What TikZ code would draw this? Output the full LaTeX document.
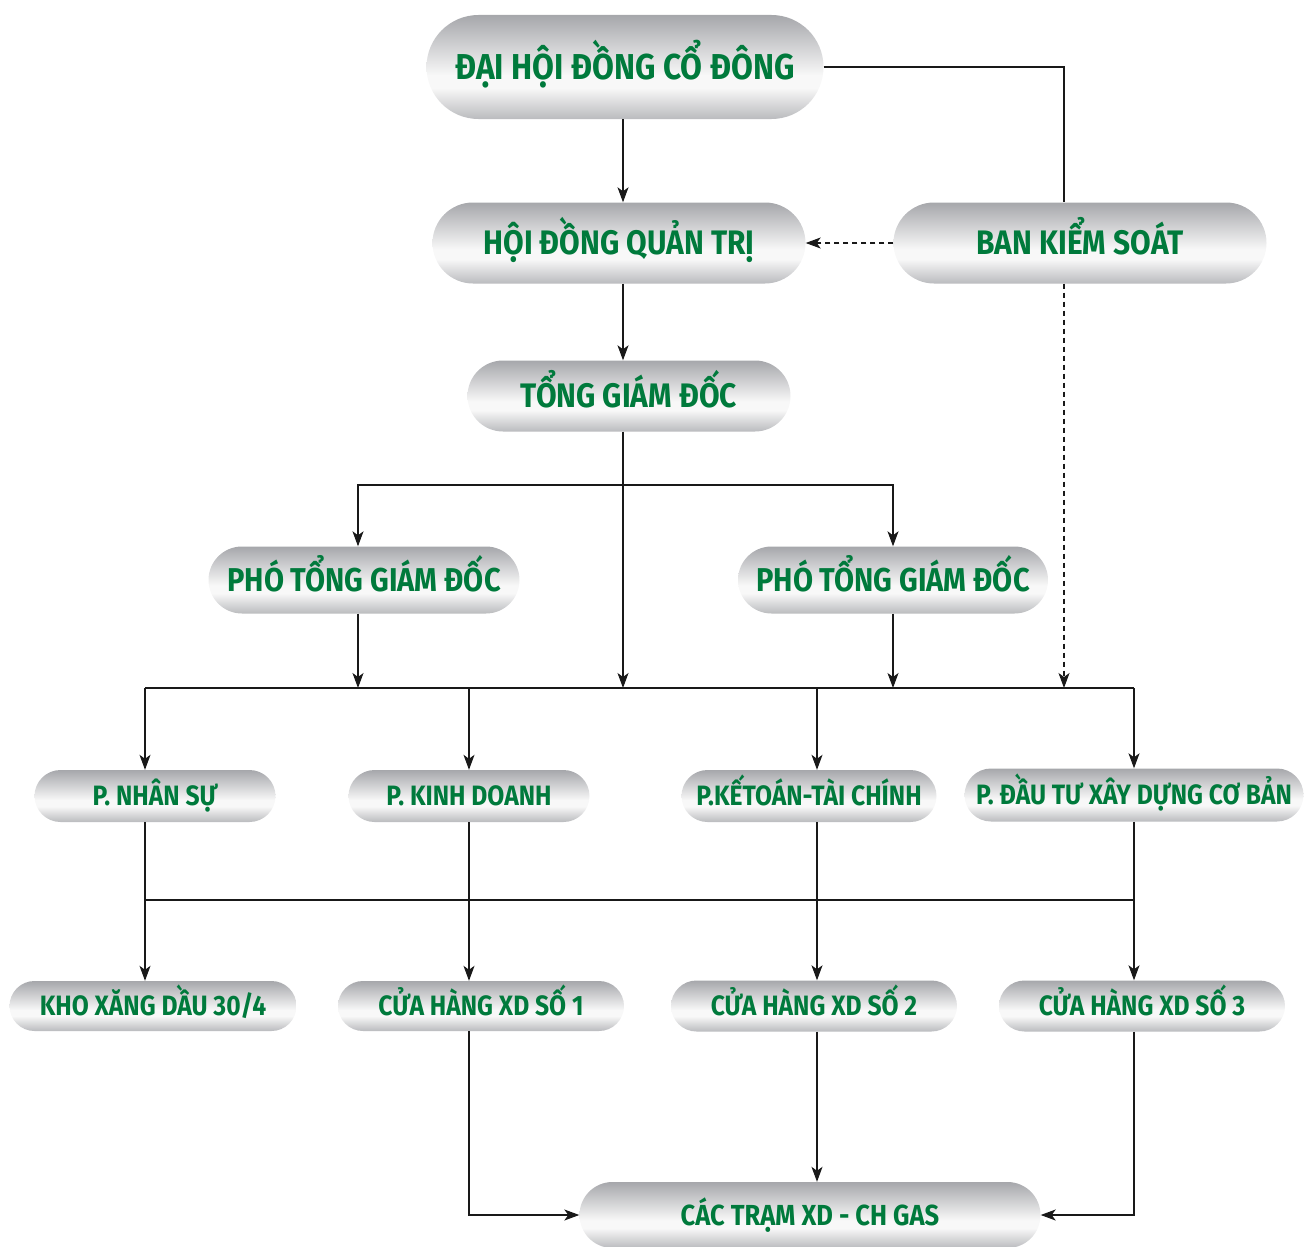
\documentclass[tikz,border=0pt]{standalone}
\usepackage{fontspec}
\newfontfamily\lblfont[FakeStretch=0.88]{Fira Sans}
\usetikzlibrary{arrows.meta,shapes.misc}
\definecolor{txtgreen}{RGB}{0,122,60}
\definecolor{mtop}{RGB}{166,167,171}
\definecolor{mwhite}{RGB}{248,248,248}
\definecolor{mbot}{RGB}{186,187,190}
\pgfdeclareverticalshading{metal}{100bp}{color(0bp)=(mbot); color(25bp)=(mbot); color(40bp)=(mwhite); color(46bp)=(mwhite); color(75bp)=(mtop); color(100bp)=(mtop)}
\tikzset{
  box/.style={rounded rectangle, shade, shading=metal, draw=none, inner sep=0pt,
    text=txtgreen, font=\lblfont\bfseries\fontsize{#1}{#1}\selectfont, align=center,
    text height={0.69*#1pt}, text depth=0pt},
  ln/.style={draw=black!90, line width=1.1pt},
  arr/.style={ln, -{Stealth[length=15pt,width=11pt,inset=4pt]}},
}
\begin{document}
\begin{tikzpicture}[x=1pt,y=-1pt]
\useasboundingbox (0,0) rectangle (1304,1247);
% nodes
\node[box=36, minimum width=397, minimum height=104] (dh) at (625,67) {ĐẠI HỘI ĐỒNG CỔ ĐÔNG};
\node[box=34, minimum width=373, minimum height=81] (hd) at (619,243) {HỘI ĐỒNG QUẢN TRỊ};
\node[box=34, minimum width=373, minimum height=81] (bks) at (1080,243) {BAN KIỂM SOÁT};
\node[box=34, minimum width=323, minimum height=71] (tgd) at (629,396) {TỔNG GIÁM ĐỐC};
\node[box=33, minimum width=311, minimum height=67] (ptl) at (364,580) {PHÓ TỔNG GIÁM ĐỐC};
\node[box=33, minimum width=310, minimum height=67] (ptr) at (893,580) {PHÓ TỔNG GIÁM ĐỐC};
\node[box=28, minimum width=241, minimum height=52] (pns) at (155,796) {P. NHÂN SỰ};
\node[box=28, minimum width=241, minimum height=52] (pkd) at (469,796) {P. KINH DOANH};
\node[box=28, minimum width=255, minimum height=52] (pkt) at (809,796) {P.KẾTOÁN-TÀI CHÍNH};
\node[box=28, minimum width=339, minimum height=53] (pdt) at (1134,795) {P. ĐẦU TƯ XÂY DỰNG CƠ BẢN};
\node[box=28, minimum width=287, minimum height=50] (kho) at (153,1006) {KHO XĂNG DẦU 30/4};
\node[box=28, minimum width=286, minimum height=50] (ch1) at (481,1006) {CỬA HÀNG XD SỐ 1};
\node[box=28, minimum width=286, minimum height=51] (ch2) at (814,1006) {CỬA HÀNG XD SỐ 2};
\node[box=28, minimum width=286, minimum height=51] (ch3) at (1142,1006) {CỬA HÀNG XD SỐ 3};
\node[box=29, minimum width=461, minimum height=66] (ct) at (810,1215) {CÁC TRẠM XD - CH GAS};
% lanes
\coordinate (xA) at (145,0);
\coordinate (xB) at (469,0);
\coordinate (xC) at (817,0);
\coordinate (xD) at (1134,0);
\coordinate (xM) at (623,0);
\coordinate (xL) at (358,0);
\coordinate (xR) at (893,0);
\coordinate (xK) at (1064,0);
\coordinate (yT) at (0,485);
\coordinate (yB1) at (0,688);
\coordinate (yB2) at (0,900);
% connectors
\draw[arr] (dh.south -| xM) -- (hd.north -| xM);
\draw[ln] (dh.east) -| (bks.north -| xK);
\draw[arr,dash pattern=on 5pt off 4pt] (bks.west) -- (hd.east);
\draw[arr] (hd.south -| xM) -- (tgd.north -| xM);
\draw[arr] (tgd.south -| xM) -- (xM |- yB1);
\draw[arr] (xM |- yT) -| (ptl.north -| xL);
\draw[arr] (xM |- yT) -| (ptr.north -| xR);
\draw[arr] (ptl.south -| xL) -- (xL |- yB1);
\draw[arr] (ptr.south -| xR) -- (xR |- yB1);
\draw[arr,dash pattern=on 5pt off 4pt] (bks.south -| xK) -- (xK |- yB1);
\draw[ln] (xA |- yB1) -- (xD |- yB1);
\draw[arr] (xA |- yB1) -- (pns.north -| xA);
\draw[arr] (xB |- yB1) -- (pkd.north -| xB);
\draw[arr] (xC |- yB1) -- (pkt.north -| xC);
\draw[arr] (xD |- yB1) -- (pdt.north -| xD);
\draw[ln] (pns.south -| xA) -- (xA |- yB2) -- (xD |- yB2);
\draw[ln] (pdt.south -| xD) -- (xD |- yB2);
\draw[arr] (xA |- yB2) -- (kho.north -| xA);
\draw[arr] (xD |- yB2) -- (ch3.north -| xD);
\draw[arr] (pkd.south -| xB) -- (ch1.north -| xB);
\draw[arr] (pkt.south -| xC) -- (ch2.north -| xC);
\draw[arr] (ch1.south -| xB) |- (ct.west);
\draw[arr] (ch2.south -| xC) -- (ct.north -| xC);
\draw[arr] (ch3.south -| xD) |- (ct.east);
\end{tikzpicture}
\end{document}
